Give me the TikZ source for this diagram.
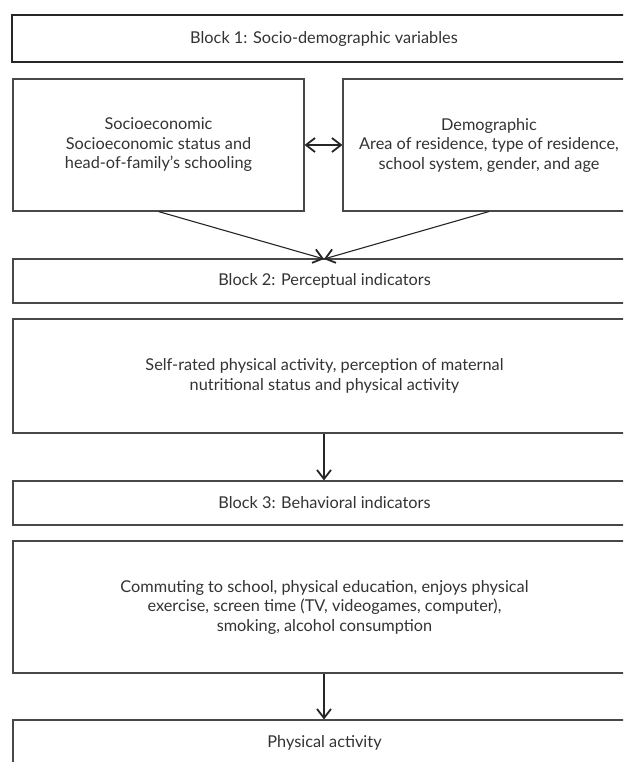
\documentclass[tikz,border=0pt]{standalone}
\usepackage{fontspec}
\setmainfont{Lato}
\usetikzlibrary{arrows.meta}
\definecolor{txt}{HTML}{333333}
\definecolor{edge}{HTML}{484848}
\tikzset{
  box/.style={draw=edge, line width=1.1pt, rectangle, inner sep=0pt, align=center,
    text=txt, font=\fontsize{16.3}{19.5}\selectfont},
  topbox/.style={box, draw=black!85, line width=1.8pt},
  tip/.style={Straight Barb[length=9pt,width=14pt,line width=1.8pt]},
  conn/.style={draw=black!85, line width=1.1pt, -{Straight Barb[length=9pt,width=14pt,line width=1.8pt]}},
  biconn/.style={draw=black!85, line width=1.1pt, {Straight Barb[length=9pt,width=14pt,line width=1.8pt]}-{Straight Barb[length=9pt,width=14pt,line width=1.8pt]}}
}
\begin{document}
\begin{tikzpicture}[x=1pt,y=-1pt]
\useasboundingbox (0,0) rectangle (623,762);
\clip (0,0) rectangle (623,762);
\fill[white] (0,0) rectangle (623,762);
\node[topbox, minimum width=624pt, minimum height=47pt] (b1) at (324,38.5) {Block 1: Socio-demographic variables};
\node[box, minimum width=291pt, minimum height=132pt] (soc) at (158.5,145) {Socioeconomic\\Socioeconomic status and\\head-of-family's schooling};
\node[box, minimum width=292pt, minimum height=132pt] (dem) at (489,145) {Demographic\\Area of residence, type of residence,\\school system, gender, and age};
\node[box, minimum width=623pt, minimum height=44pt] (b2) at (324.5,281) {Block 2: Perceptual indicators};
\node[box, minimum width=623pt, minimum height=114pt] (perc) at (324.5,376) {Self-rated physical activity, perception of maternal\\nutritional status and physical activity};
\node[box, minimum width=623pt, minimum height=44pt] (b3) at (324.5,503) {Block 3: Behavioral indicators};
\node[box, minimum width=623pt, minimum height=132pt] (beh) at (324.5,607) {Commuting to school, physical education, enjoys physical\\exercise, screen time (TV, videogames, computer),\\smoking, alcohol consumption};
\node[box, minimum width=623pt, minimum height=46pt] (pa) at (324.5,743) {Physical activity};
\coordinate (meet) at (324,259);
\draw[biconn] (soc.east) -- (dem.west);
\draw[conn] (soc.south) -- (meet);
\draw[conn] (dem.south) -- (meet);
\draw[conn] (perc.south -| meet) -- (b3.north -| meet);
\draw[conn] (beh.south -| meet) -- (pa.north -| meet);
\end{tikzpicture}
\end{document}
